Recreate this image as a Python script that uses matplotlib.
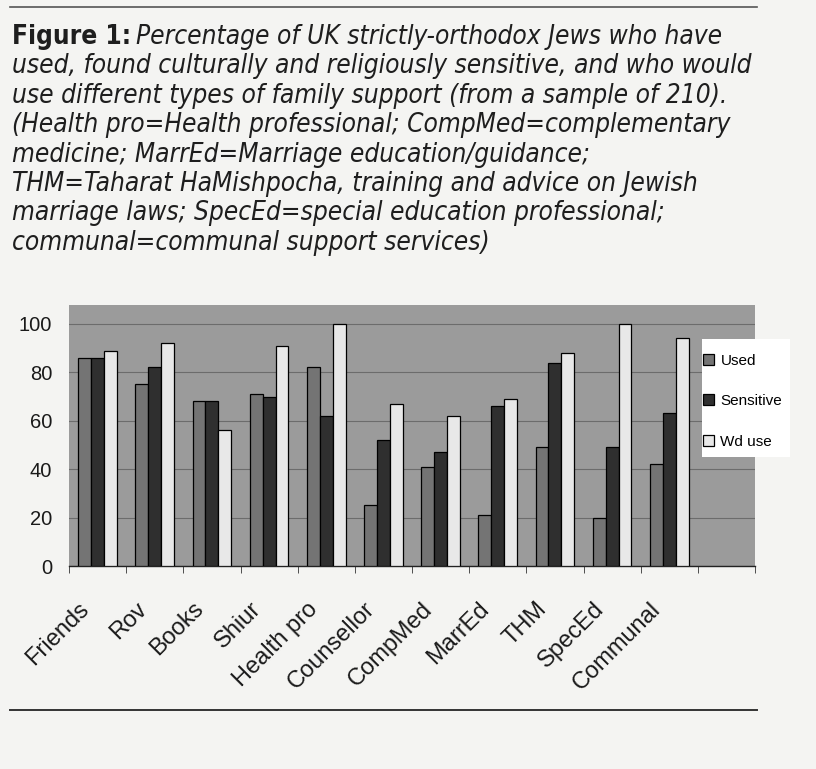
import matplotlib
matplotlib.use('Agg')
import matplotlib.pyplot as plt
from matplotlib import font_manager as fm
from matplotlib.lines import Line2D
from matplotlib.patches import Rectangle
from matplotlib.transforms import ScaledTranslation
import numpy as np

# data
categories = ['Friends', 'Rov', 'Books', 'Shiur', 'Health pro', 'Counsellor',
              'CompMed', 'MarrEd', 'THM', 'SpecEd', 'Communal']
used = [86, 75, 68, 71, 82, 25, 41, 21, 49, 20, 42]
sensitive = [86, 82, 68, 70, 62, 52, 47, 66, 84, 49, 63]
wd_use = [89, 92, 56, 91, 100, 67, 62, 69, 88, 100, 94]
series_names = ['Used', 'Sensitive', 'Wd use']
yticks = [0, 20, 40, 60, 80, 100]

caption_head = 'Figure 1:'
caption_lines = [
    'Percentage of UK strictly-orthodox Jews who have',
    'used, found culturally and religiously sensitive, and who would',
    'use different types of family support (from a sample of 210).',
    '(Health pro=Health professional; CompMed=complementary',
    'medicine; MarrEd=Marriage education/guidance;',
    'THM=Taharat HaMishpocha, training and advice on Jewish',
    'marriage laws; SpecEd=special education professional;',
    'communal=communal support services)',
]

W, H = 816, 769
fig = plt.figure(figsize=(W / 100, H / 100), dpi=100)
fig.patch.set_facecolor('#f4f4f2')

names = {f.name for f in fm.fontManager.ttflist}
if 'Liberation Sans Narrow' in names:
    cap_font = dict(family='Liberation Sans Narrow')
else:
    cap_font = dict(family='DejaVu Sans', stretch='condensed')
chart_font = 'Liberation Sans'

# caption: size it so the second line spans the same width as in the scan
renderer = fig.canvas.get_renderer()
probe = fig.text(0, 0, caption_lines[1], fontsize=20, style='italic', **cap_font)
wpx = probe.get_window_extent(renderer).width
probe.remove()
cap_fs = 20 * 738 / wpx

x0 = 12 / W
base0 = 44
step = 29.4
head = fig.text(x0, 1 - base0 / H, caption_head, fontsize=cap_fs, fontweight='bold',
                va='baseline', color='#1e1e1e', **cap_font)
hw = head.get_window_extent(renderer).width
for i, line in enumerate(caption_lines):
    xx = x0 + (hw + 5) / W if i == 0 else x0
    fig.text(xx, 1 - (base0 + i * step) / H, line, fontsize=cap_fs, style='italic',
             va='baseline', color='#1e1e1e', **cap_font)

# horizontal rules above and below the figure
fig.add_artist(Line2D([10 / W, 757 / W], [1 - 7 / H, 1 - 7 / H], color='#555555', lw=1.2))
fig.add_artist(Line2D([10 / W, 757 / W], [1 - 710 / H, 1 - 710 / H], color='#333333', lw=1.4))

# chart
ax = fig.add_axes([69 / W, 1 - 566 / H, (755 - 69) / W, (566 - 305) / H])
ax.set_facecolor('#9b9b9b')
x = np.arange(len(categories))
w = 0.225
colors = ['#747474', '#2f2f2f', '#e8e8e8']
for k, (vals, name) in enumerate(zip([used, sensitive, wd_use], series_names)):
    ax.bar(x + (k - 1) * w, vals, w, color=colors[k], edgecolor='black', lw=0.9,
           label=name, zorder=3)

ax.set_xlim(-0.5, 11.5)
ax.set_ylim(0, 107.8)
ax.set_yticks(yticks)
ax.set_yticklabels([str(v) for v in yticks], fontsize=14.5, family=chart_font)
ax.yaxis.grid(True, color='#6c6c6c', lw=0.8)
ax.set_axisbelow(True)
ax.tick_params(axis='y', length=0, pad=12, colors='#1a1a1a')

ax.set_xticks(x)
ax.set_xticklabels(categories, rotation=45, ha='right', rotation_mode='anchor',
                   fontsize=17, family=chart_font, color='#1a1a1a')
ax.set_xticks(np.arange(-0.5, 12, 1), minor=True)
ax.tick_params(axis='x', which='major', length=0, pad=20)
ax.tick_params(axis='x', which='minor', length=5, direction='out', color='#333333')
shift = ScaledTranslation(-14 / 72, -3 / 72, fig.dpi_scale_trans)
for lab in ax.get_xticklabels():
    lab.set_transform(lab.get_transform() + shift)

for s in ['top', 'right', 'left']:
    ax.spines[s].set_visible(False)
ax.spines['bottom'].set_color('#222222')
ax.spines['bottom'].set_linewidth(1.0)

# white legend panel on the right of the plot area
fig.add_artist(Rectangle((702 / W, 1 - 457 / H), 88 / W, 118 / H,
                         transform=fig.transFigure, facecolor='white',
                         edgecolor='none', zorder=2))
fig.legend(loc='upper left', bbox_to_anchor=(703 / W, 1 - 354 / H), frameon=False,
           prop={'family': chart_font, 'size': 11}, handlelength=0.72,
           handleheight=0.72, handletextpad=0.42, labelspacing=1.72,
           borderpad=0, borderaxespad=0).set_zorder(3)

fig.savefig('out.png', dpi=100, facecolor=fig.get_facecolor())
